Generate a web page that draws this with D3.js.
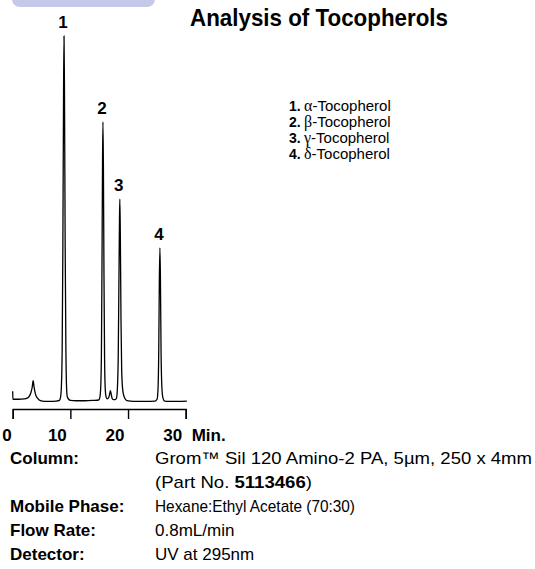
<!DOCTYPE html>
<html><head><meta charset="utf-8">
<script src="https://cdn.jsdelivr.net/npm/d3@7"></script>
<style>
html,body{margin:0;padding:0;background:#fff;}
svg{display:block;}
text{font-family:"Liberation Sans Narrow","Arial Narrow","Liberation Sans",Arial,sans-serif;fill:#000;}
</style></head><body><svg id="c" width="535" height="569"></svg>
<script>
// ---- data ----
const title = "Analysis of Tocopherols";
// chromatogram trace: [retention time (min), detector signal (relative units)]
const tracePoints = [
  [0,2.4],[0.03,0.2],[1.0,0.2],[2.0,0.3],[2.5,0.5],[2.85,1.0],[3.15,2.0],[3.38,3.5],[3.55,5.3],
  [3.72,3.4],[3.95,1.6],[4.3,0.5],[4.8,-0.2],[5.5,-0.4],[6.5,-0.4],[7.5,-0.3],
  [8.1,-0.1],[8.3,0.8],[8.45,4],[8.58,14],[8.7,42],[8.82,85],[8.9,100],[8.98,85],[9.1,42],
  [9.22,15],[9.33,4],[9.45,1],[9.7,0.2],[10.0,-0.1],[11.0,-0.2],[12.5,-0.2],[14.0,-0.1],
  [14.9,0],[15.1,0.6],[15.25,3],[15.38,12],[15.48,36],[15.58,66],[15.65,76.4],[15.73,64],
  [15.83,34],[15.93,12],[16.05,3],[16.2,0.8],[16.4,0.3],[16.65,0.7],[16.82,1.7],[16.95,2.6],
  [17.08,1.6],[17.25,0.4],[17.45,0.1],[17.75,0.1],
  [18.0,0.5],[18.15,3],[18.3,12],[18.43,34],[18.52,50],[18.58,55.2],[18.66,46],[18.78,22],
  [18.9,8],[19.1,2.5],[19.4,0.6],[19.8,-0.2],[21.0,-0.4],[23.0,-0.4],[24.7,-0.3],
  [25.05,0.3],[25.2,3],[25.33,14],[25.43,33],[25.53,41.8],[25.62,33],[25.73,13],[25.87,3.5],
  [26.05,0.6],[26.35,-0.3],[27.0,-0.4],[28.5,-0.4],[30.2,-0.3]
];
const peakLabels = ["1","2","3","4"];
const peakTimes = [8.9, 15.65, 18.58, 25.53];
const peakHeights = [100, 76.4, 55.2, 41.8];
const axisTicks = [0, 10, 20, 30];
const axisUnit = "Min.";
const legendNums = ["1.","2.","3.","4."];
const legendGreek = ["\u03B1","\u03B2","\u03B3","\u03B4"];
const legendNames = ["-Tocopherol","-Tocopherol","-Tocopherol","-Tocopherol"];
const methodLabels = ["Column:","","Mobile Phase:","Flow Rate:","Detector:"];
const methodValues = [
  [["Grom\u2122 Sil 120 Amino-2 PA, 5\u00B5m, 250 x 4mm",false]],
  [["(Part No. ",false],["5113466",true],[")",false]],
  [["Hexane:Ethyl Acetate (70:30)",false]],
  [["0.8mL/min",false]],
  [["UV at 295nm",false]]
];

// ---- drawing ----
const svg = d3.select("#c");
const x = d3.scaleLinear().domain([0,30]).range([12.7,185.7]);
const y = d3.scaleLinear().domain([0,100]).range([400,36]);

// header tab
svg.append("rect").attr("x",12).attr("y",-12).attr("width",143).attr("height",19)
  .attr("rx",8).attr("fill","#c6c8ea");

svg.append("text").attr("x",190).attr("y",26).attr("font-size",24).attr("font-weight","bold")
  .attr("textLength",258).attr("lengthAdjust","spacingAndGlyphs").text(title);

// trace
const line = d3.line().x(d=>x(d[0])).y(d=>y(d[1])).curve(d3.curveMonotoneX);
svg.append("path").datum(tracePoints).attr("d",line).attr("fill","none")
  .attr("stroke","#000").attr("stroke-width",1.3).attr("stroke-linejoin","round");

// peak labels
svg.selectAll(".pl").data(peakLabels).join("text").attr("class","pl")
  .attr("x",(d,i)=>x(peakTimes[i])-1).attr("y",(d,i)=>y(peakHeights[i])-8)
  .attr("text-anchor","middle").attr("font-size",17).attr("font-weight","bold").text(d=>d);

// axis
const ax = svg.append("g").attr("transform","translate(0,409)")
  .call(d3.axisBottom(x).tickValues(axisTicks).tickSize(10).tickSizeOuter(10).tickFormat(""));
ax.selectAll("path,line").attr("stroke","#000").attr("stroke-width",1.4);
svg.selectAll(".al").data(axisTicks).join("text").attr("class","al")
  .attr("x",d=>Math.max(7,x(d)-13)).attr("y",441).attr("text-anchor","middle")
  .attr("font-size",17).attr("font-weight","bold").text(d=>d);
svg.append("text").attr("x",x(30)+6).attr("y",441).attr("font-size",17)
  .attr("font-weight","bold").text(axisUnit);

// legend
const lg = svg.append("g");
legendNums.forEach((n,i)=>{
  const yy = 110.7 + i*16;
  lg.append("text").attr("x",289).attr("y",yy).attr("font-size",14).attr("font-weight","bold").text(n);
  const t = lg.append("text").attr("x",304).attr("y",yy).attr("font-size",15);
  t.append("tspan").attr("font-family","'Liberation Serif','DejaVu Serif',serif").attr("font-size",16).text(legendGreek[i]);
  t.append("tspan").text(legendNames[i]);
});

// method table
const rowY = [464,488,512,536,560];
const valueWidths = [377,157,200,null,null];
methodLabels.forEach((l,i)=>{
  if(l) svg.append("text").attr("x",10).attr("y",rowY[i]).attr("font-size",17).attr("font-weight","bold").text(l);
  const t = svg.append("text").attr("x",155).attr("y",rowY[i]).attr("font-size",17);
  if(valueWidths[i]) t.attr("textLength",valueWidths[i]).attr("lengthAdjust","spacingAndGlyphs");
  methodValues[i].forEach(p=>t.append("tspan").attr("font-weight",p[1]?"bold":"normal").text(p[0]));
});
</script></body></html>
